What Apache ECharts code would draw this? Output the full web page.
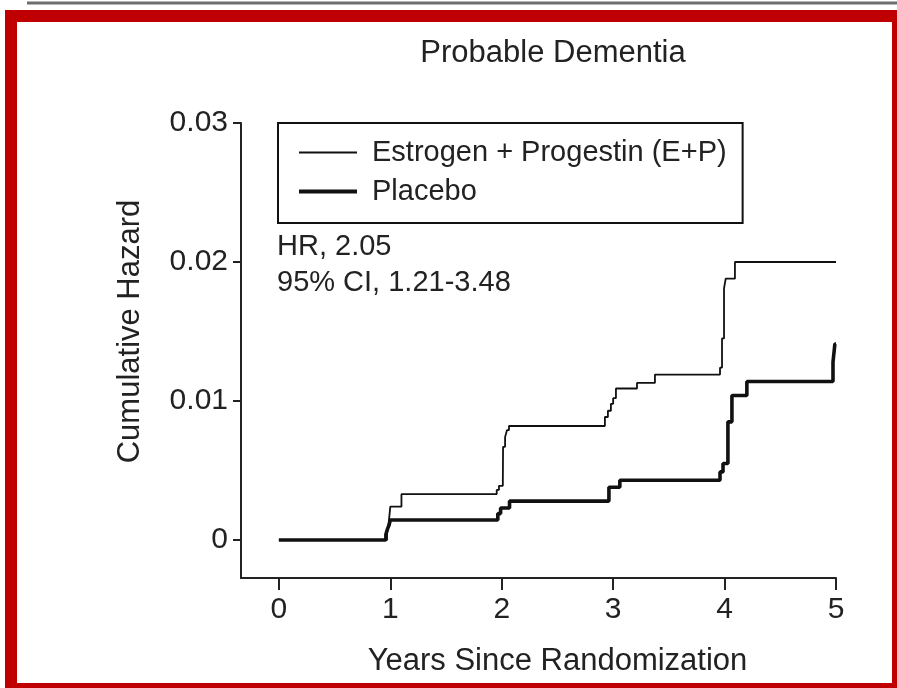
<!DOCTYPE html>
<html>
<head>
<meta charset="utf-8">
<script src="https://cdn.jsdelivr.net/npm/echarts@6/dist/echarts.min.js"></script>
<style>
html,body{margin:0;padding:0;background:#fff;}
#chart{width:897px;height:688px;}
</style>
</head>
<body>
<div id="chart"></div>
<script>
// Estrogen + Progestin: event times (years) and cumulative hazard after each step
var epTimes  = [0, 0.97, 0.985, 1.0, 1.10, 1.955, 1.975, 2.01, 2.012, 2.03, 2.047, 2.065, 2.926, 2.953, 2.98, 3.0, 3.025, 3.214, 3.375, 3.959, 3.977, 3.995, 4.01, 4.093, 5.0];
var epHazard = [0, 0.0005, 0.0012, 0.0024, 0.0033, 0.0036, 0.0039, 0.0042, 0.0067, 0.0074, 0.0079, 0.0082, 0.00885, 0.0093, 0.0098, 0.0102, 0.0109, 0.0113, 0.0119, 0.0124, 0.0145, 0.0181, 0.0188, 0.0200, 0.0200];
// Placebo
var plTimes  = [0, 0.96, 0.975, 0.99, 1.0, 1.965, 1.99, 2.07, 2.962, 3.06, 3.959, 3.986, 4.03, 4.066, 4.2, 4.973, 4.99, 5.0];
var plHazard = [0, 0.0004, 0.0008, 0.0011, 0.00144, 0.0019, 0.0023, 0.0028, 0.0038, 0.0043, 0.0049, 0.0055, 0.0085, 0.0104, 0.0114, 0.0128, 0.0141, 0.0141];

var xTicks = [0, 1, 2, 3, 4, 5];
var yTicks = [0, 0.01, 0.02, 0.03];
var seriesNames = ['Estrogen + Progestin (E+P)', 'Placebo'];
var titleText = 'Probable Dementia';
var annotations = ['HR, 2.05', '95% CI, 1.21-3.48'];

function pairs(t, v) { return t.map(function (x, i) { return [x, v[i]]; }); }

var FONT = '"Liberation Sans", Arial, Helvetica, sans-serif';
var INK = '#222';
var THIN = 1.8, THICK = 3.6;

var chart = echarts.init(document.getElementById('chart'), null, {renderer: 'canvas'});
chart.setOption({
  animation: false,
  backgroundColor: '#fff',
  textStyle: {fontFamily: FONT, color: INK},
  title: {
    text: titleText,
    left: 548, top: 33, textAlign: 'center',
    textStyle: {fontFamily: FONT, fontSize: 31, fontWeight: 'normal', color: INK}
  },
  legend: {
    orient: 'vertical',
    left: 278, top: 123,
    padding: [15, 16, 17, 19],
    itemGap: 10,
    itemWidth: 58, itemHeight: 30,
    borderColor: '#111', borderWidth: 2,
    data: [
      {name: seriesNames[0], lineStyle: {width: 2}},
      {name: seriesNames[1], lineStyle: {width: 4}}
    ],
    itemStyle: {opacity: 0},
    textStyle: {fontFamily: FONT, fontSize: 29, color: INK, padding: [0, 0, 0, 10]}
  },
  grid: {left: 241, right: 61, top: 123, bottom: 110, containLabel: false},
  xAxis: {
    type: 'value', min: -0.34, max: 5,
    name: 'Years Since Randomization', nameLocation: 'middle', nameGap: 68,
    nameTextStyle: {fontFamily: FONT, fontSize: 31, color: INK, padding: [0, 0, 0, 38]},
    axisLine: {show: true, onZero: false, lineStyle: {color: INK, width: 2}},
    axisTick: {show: true, length: 12, lineStyle: {color: INK, width: 2}, customValues: xTicks},
    axisLabel: {fontFamily: FONT, fontSize: 30, color: INK, margin: 17, customValues: xTicks},
    splitLine: {show: false}
  },
  yAxis: {
    type: 'value', min: -0.002734, max: 0.03,
    name: 'Cumulative Hazard', nameLocation: 'middle', nameGap: 95, nameRotate: 90,
    nameTextStyle: {fontFamily: FONT, fontSize: 31, color: INK, padding: [0, 0, 0, 38]},
    axisLine: {show: true, onZero: false, lineStyle: {color: INK, width: 2}},
    axisTick: {show: true, length: 8, lineStyle: {color: INK, width: 2}, customValues: yTicks},
    axisLabel: {fontFamily: FONT, fontSize: 30, color: INK, margin: 13, customValues: yTicks,
      formatter: function (v) { return v === 0 ? '0' : v.toFixed(2); }},
    splitLine: {show: false}
  },
  series: [
    {name: seriesNames[0], type: 'line', step: 'end', showSymbol: false, symbol: 'none',
     data: pairs(epTimes, epHazard), lineStyle: {color: '#111', width: THIN}, itemStyle: {color: '#111'}},
    {name: seriesNames[1], type: 'line', step: 'end', showSymbol: false, symbol: 'none',
     data: pairs(plTimes, plHazard), lineStyle: {color: '#111', width: THICK}, itemStyle: {color: '#111'}}
  ],
  graphic: [
    {type: 'line', silent: true, shape: {x1: 27, y1: 3, x2: 897, y2: 3}, style: {stroke: '#6e6e6e', lineWidth: 3}},
    {type: 'rect', silent: true, shape: {x: 11, y: 16, width: 887, height: 673}, style: {fill: 'none', stroke: '#c00000', lineWidth: 12}},
    {type: 'text', silent: true, x: 277, y: 247, style: {text: annotations[0], font: '29px ' + FONT, fill: INK, verticalAlign: 'middle'}},
    {type: 'text', silent: true, x: 277, y: 283, style: {text: annotations[1], font: '29px ' + FONT, fill: INK, verticalAlign: 'middle'}}
  ]
});
</script>
</body>
</html>
